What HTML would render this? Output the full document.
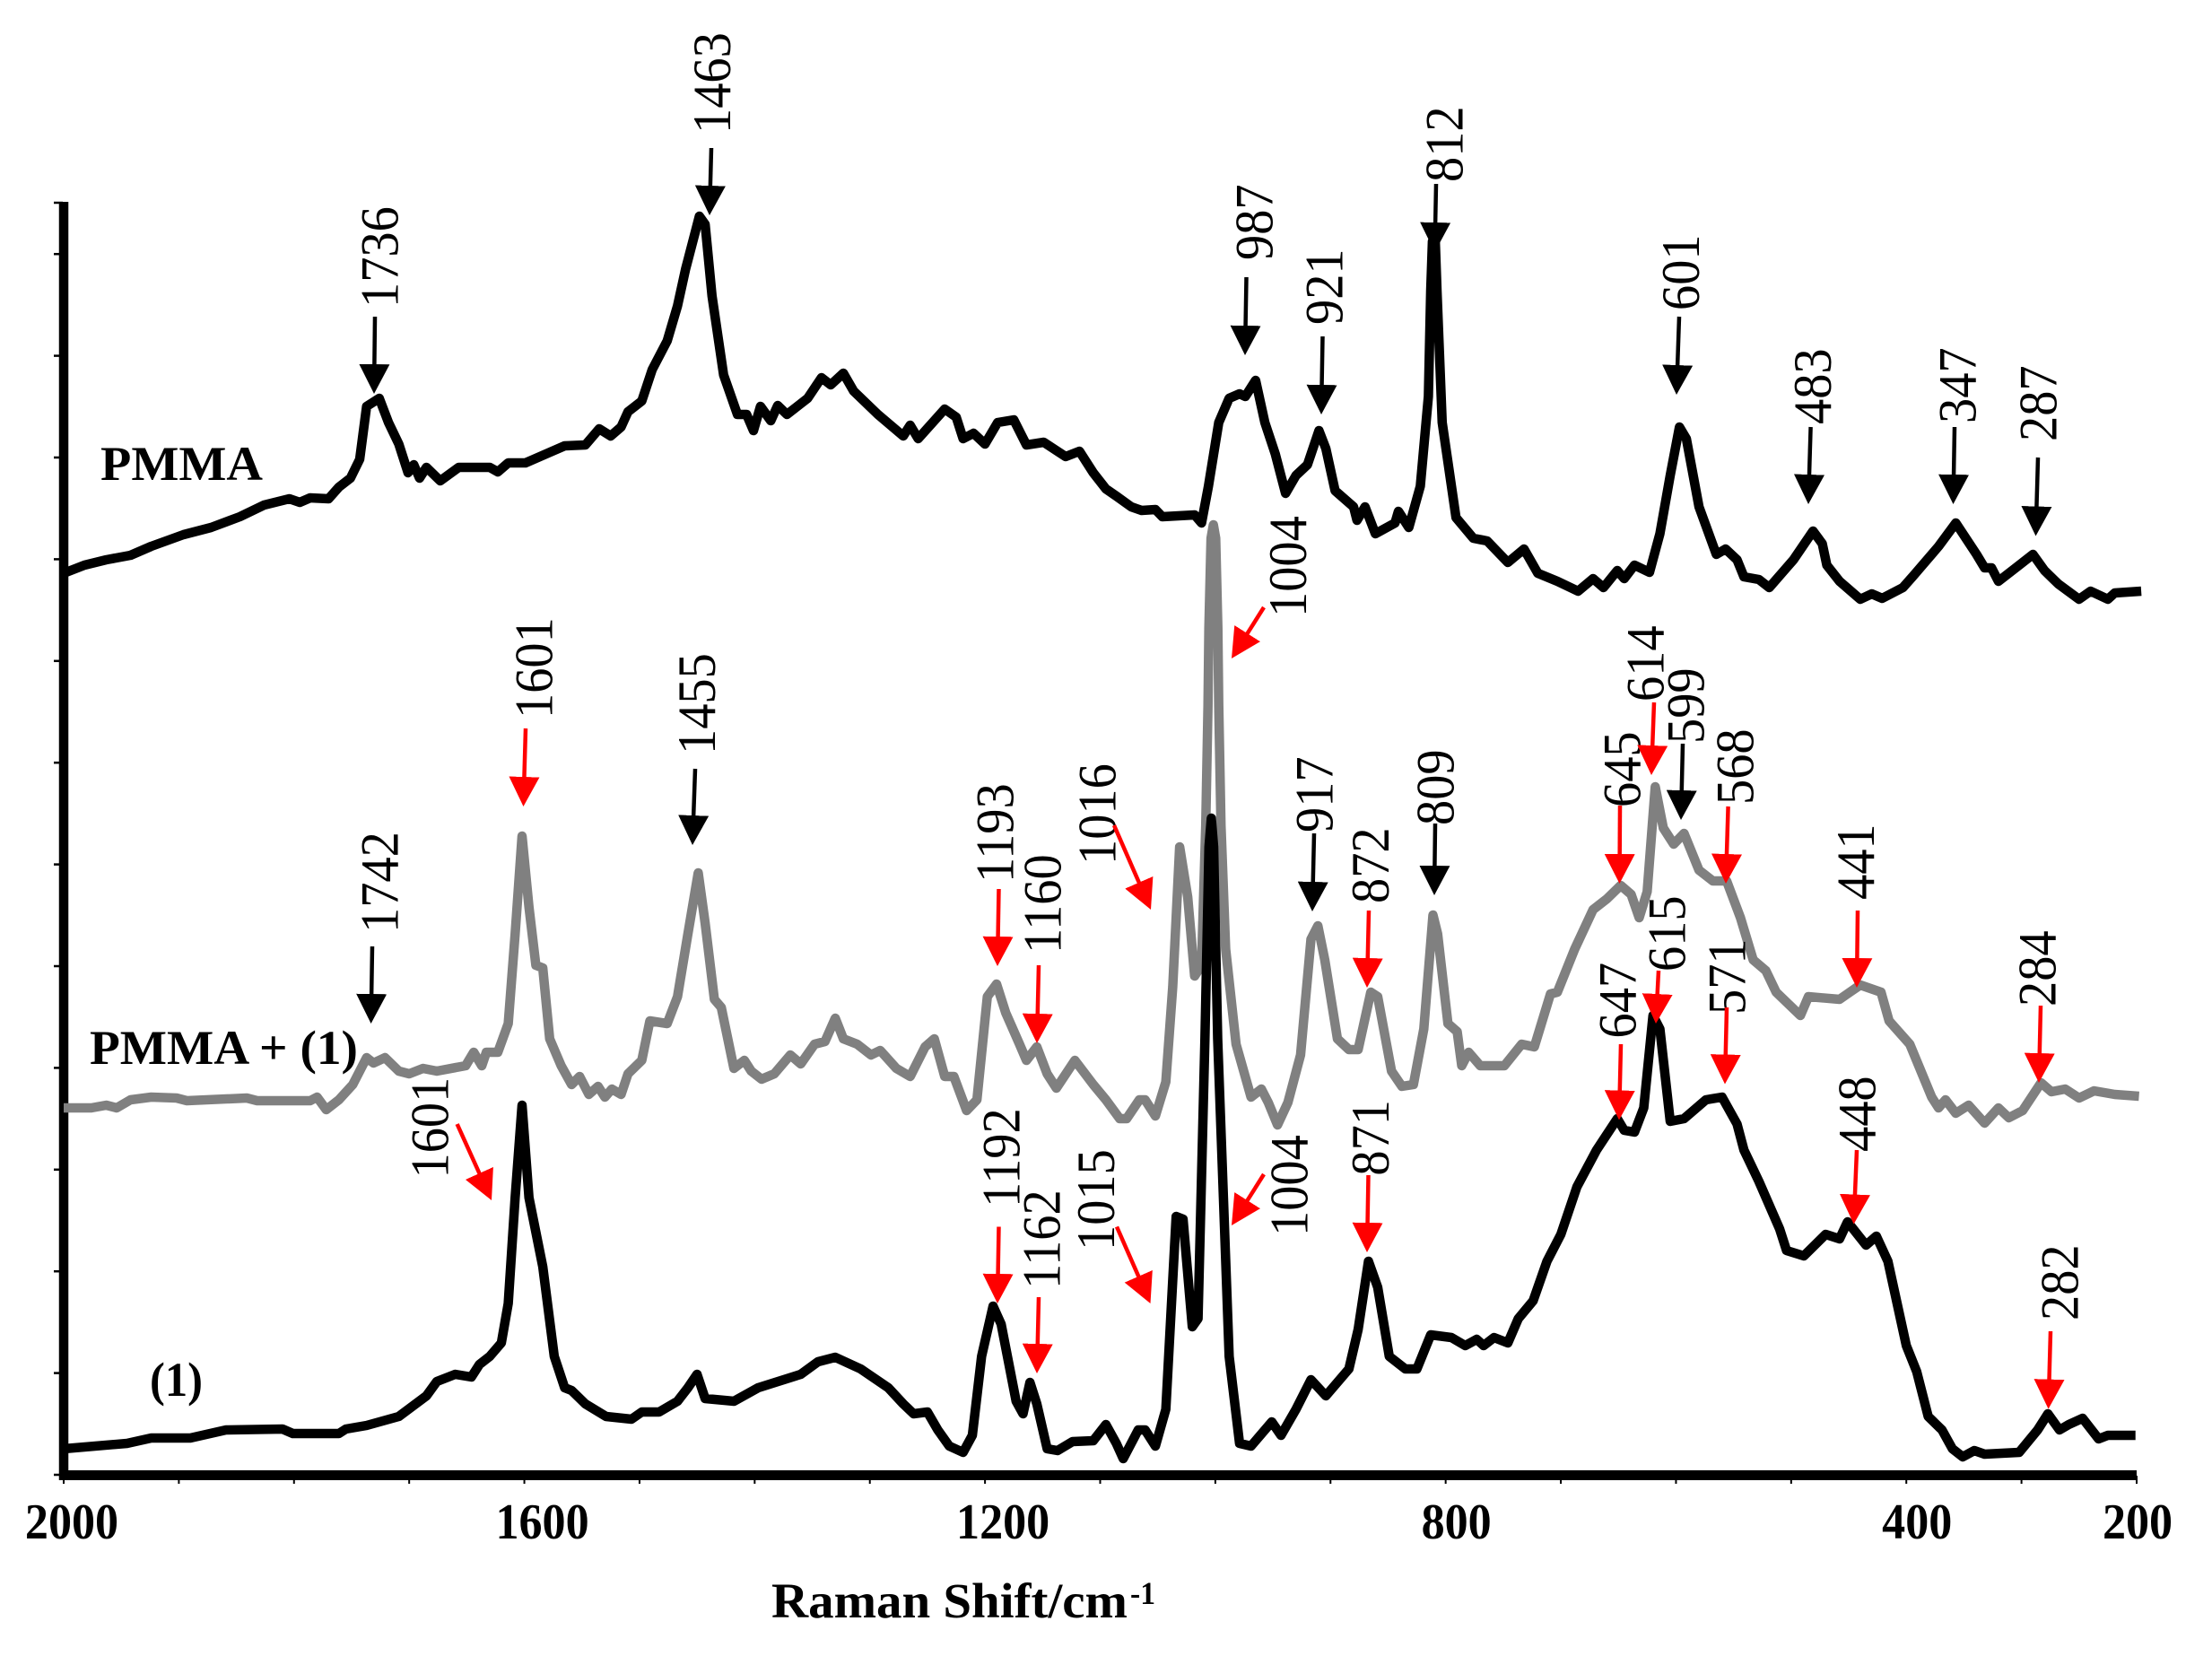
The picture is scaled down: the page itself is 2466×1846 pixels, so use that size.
<!DOCTYPE html>
<html lang="en">
<head>
<meta charset="utf-8">
<title>Raman spectra of PMMA, PMMA + (1) and (1)</title>
<style>
html,body{margin:0;padding:0;background:#fff;}
svg{display:block;font-family:"Liberation Serif",serif;}
.pk{font-size:60px;fill:#000;}
.ar{stroke-width:4.5;fill:none;}
.k{stroke:#000;}
.r{stroke:#f00;}
.tick-label{font-size:56px;font-weight:bold;text-anchor:middle;}
.series-label{font-size:54px;font-weight:bold;}
</style>
</head>
<body>
<svg id="chart" xmlns="http://www.w3.org/2000/svg" width="2466" height="1846" viewBox="0 0 2466 1846">
<defs>
<marker id="hk" markerUnits="userSpaceOnUse" viewBox="0 0 33 34" markerWidth="33" markerHeight="34" refX="33" refY="17" orient="auto"><path d="M0 0L33 17L0 34z" fill="#000"/></marker>
<marker id="hr" markerUnits="userSpaceOnUse" viewBox="0 0 33 34" markerWidth="33" markerHeight="34" refX="33" refY="17" orient="auto"><path d="M0 0L33 17L0 34z" fill="#f00"/></marker>
</defs>
<rect x="0" y="0" width="2466" height="1846" fill="#fff"/>
<g id="axes"></g>
<g id="series"></g>

<text class="series-label" x="112" y="535" textLength="181" lengthAdjust="spacingAndGlyphs">PMMA</text>
<text class="series-label" x="100" y="1186" textLength="299" lengthAdjust="spacingAndGlyphs">PMMA + (1)</text>
<text class="series-label" x="167" y="1556" textLength="59" lengthAdjust="spacingAndGlyphs">(1)</text>

<text x="860" y="1803" font-size="55" font-weight="bold" textLength="397" lengthAdjust="spacingAndGlyphs">Raman Shift/cm</text>
<text x="1260" y="1788" font-size="36" font-weight="bold" textLength="28" lengthAdjust="spacingAndGlyphs">-1</text>

<g>
<g><text class="pk" transform="translate(443.5,343) rotate(-90) scale(.94,1)">1736</text><line class="ar k" x1="418" y1="353" x2="417" y2="439" pathLength="100" stroke-dasharray="80 100" marker-end="url(#hk)"/></g>
<g><text class="pk" transform="translate(814,149) rotate(-90) scale(.94,1)">1463</text><line class="ar k" x1="793" y1="165" x2="791" y2="240" pathLength="100" stroke-dasharray="80 100" marker-end="url(#hk)"/></g>
<g><text class="pk" transform="translate(1418.5,290) rotate(-90) scale(.94,1)">987</text><line class="ar k" x1="1389.5" y1="309" x2="1388" y2="396" pathLength="100" stroke-dasharray="80 100" marker-end="url(#hk)"/></g>
<g><text class="pk" transform="translate(1496.5,362) rotate(-90) scale(.94,1)">921</text><line class="ar k" x1="1474.5" y1="375" x2="1473" y2="462" pathLength="100" stroke-dasharray="80 100" marker-end="url(#hk)"/></g>
<g><text class="pk" transform="translate(1630.5,203) rotate(-90) scale(.94,1)">812</text><line class="ar k" x1="1601" y1="205" x2="1599.5" y2="281" pathLength="100" stroke-dasharray="80 100" marker-end="url(#hk)"/></g>
<g><text class="pk" transform="translate(1894,346) rotate(-90) scale(.94,1)">601</text><line class="ar k" x1="1872" y1="353" x2="1869" y2="440" pathLength="100" stroke-dasharray="80 100" marker-end="url(#hk)"/></g>
<g><text class="pk" transform="translate(2041,473) rotate(-90) scale(.94,1)">483</text><line class="ar k" x1="2018.6" y1="476" x2="2016" y2="562" pathLength="100" stroke-dasharray="80 100" marker-end="url(#hk)"/></g>
<g><text class="pk" transform="translate(2202.5,472) rotate(-90) scale(.94,1)">347</text><line class="ar k" x1="2179" y1="476" x2="2177.5" y2="562" pathLength="100" stroke-dasharray="80 100" marker-end="url(#hk)"/></g>
<g><text class="pk" transform="translate(2292.5,492) rotate(-90) scale(.94,1)">287</text><line class="ar k" x1="2272" y1="510" x2="2269.5" y2="597.5" pathLength="100" stroke-dasharray="80 100" marker-end="url(#hk)"/></g>
</g>

<g>
<g><text class="pk" transform="translate(443.5,1040) rotate(-90) scale(.94,1)">1742</text><line class="ar k" x1="415" y1="1055" x2="413.6" y2="1141" pathLength="100" stroke-dasharray="80 100" marker-end="url(#hk)"/></g>
<g><text class="pk" transform="translate(615.5,801) rotate(-90) scale(.94,1)">1601</text><line class="ar r" x1="586" y1="812" x2="583.5" y2="899" pathLength="100" stroke-dasharray="80 100" marker-end="url(#hr)"/></g>
<g><text class="pk" transform="translate(797,841) rotate(-90) scale(.94,1)">1455</text><line class="ar k" x1="775" y1="857" x2="772" y2="942" pathLength="100" stroke-dasharray="80 100" marker-end="url(#hk)"/></g>
<g><text class="pk" transform="translate(1129.5,984) rotate(-90) scale(.94,1)">1193</text><line class="ar r" x1="1113.5" y1="991" x2="1112" y2="1077" pathLength="100" stroke-dasharray="80 100" marker-end="url(#hr)"/></g>
<g><text class="pk" transform="translate(1182.5,1063) rotate(-90) scale(.94,1)">1160</text><line class="ar r" x1="1158" y1="1076" x2="1156" y2="1163" pathLength="100" stroke-dasharray="80 100" marker-end="url(#hr)"/></g>
<g><text class="pk" transform="translate(1243.5,964) rotate(-90) scale(.94,1)">1016</text><line class="ar r" x1="1242" y1="920" x2="1283" y2="1014" pathLength="100" stroke-dasharray="80 100" marker-end="url(#hr)"/></g>
<g><text class="pk" transform="translate(1456,688) rotate(-90) scale(.94,1)">1004</text><line class="ar r" x1="1409" y1="677" x2="1373" y2="734" pathLength="100" stroke-dasharray="80 100" marker-end="url(#hr)"/></g>
<g><text class="pk" transform="translate(1485.5,928) rotate(-90) scale(.94,1)">917</text><line class="ar k" x1="1465" y1="929" x2="1463" y2="1016" pathLength="100" stroke-dasharray="80 100" marker-end="url(#hk)"/></g>
<g><text class="pk" transform="translate(1548,1007) rotate(-90) scale(.94,1)">872</text><line class="ar r" x1="1526" y1="1015" x2="1524" y2="1101" pathLength="100" stroke-dasharray="80 100" marker-end="url(#hr)"/></g>
<g><text class="pk" transform="translate(1620.5,920) rotate(-90) scale(.94,1)">809</text><line class="ar k" x1="1600" y1="918" x2="1599" y2="998" pathLength="100" stroke-dasharray="80 100" marker-end="url(#hk)"/></g>
<g><text class="pk" transform="translate(1828.5,900) rotate(-90) scale(.94,1)">645</text><line class="ar r" x1="1806" y1="898" x2="1805.5" y2="985" pathLength="100" stroke-dasharray="80 100" marker-end="url(#hr)"/></g>
<g><text class="pk" transform="translate(1854.5,782) rotate(-90) scale(.94,1)">614</text><line class="ar r" x1="1844" y1="783" x2="1841" y2="864" pathLength="100" stroke-dasharray="80 100" marker-end="url(#hr)"/></g>
<g><text class="pk" transform="translate(1899.5,829) rotate(-90) scale(.94,1)">599</text><line class="ar k" x1="1876" y1="829" x2="1874" y2="914" pathLength="100" stroke-dasharray="80 100" marker-end="url(#hk)"/></g>
<g><text class="pk" transform="translate(1954.5,897) rotate(-90) scale(.94,1)">568</text><line class="ar r" x1="1926.6" y1="899" x2="1924" y2="985" pathLength="100" stroke-dasharray="80 100" marker-end="url(#hr)"/></g>
<g><text class="pk" transform="translate(2089,1003) rotate(-90) scale(.94,1)">441</text><line class="ar r" x1="2071" y1="1015" x2="2070" y2="1101" pathLength="100" stroke-dasharray="80 100" marker-end="url(#hr)"/></g>
<g><text class="pk" transform="translate(2291.5,1122) rotate(-90) scale(.94,1)">284</text><line class="ar r" x1="2275" y1="1121" x2="2273" y2="1207" pathLength="100" stroke-dasharray="80 100" marker-end="url(#hr)"/></g>
</g>

<g>
<g><text class="pk" transform="translate(499.5,1313.5) rotate(-90) scale(.94,1)">1601</text><line class="ar r" x1="509.6" y1="1253" x2="548" y2="1338" pathLength="100" stroke-dasharray="80 100" marker-end="url(#hr)"/></g>
<g><text class="pk" transform="translate(1136.5,1346) rotate(-90) scale(.94,1)">1192</text><line class="ar r" x1="1113.5" y1="1367.5" x2="1112" y2="1453" pathLength="100" stroke-dasharray="80 100" marker-end="url(#hr)"/></g>
<g><text class="pk" transform="translate(1181.5,1437) rotate(-90) scale(.94,1)">1162</text><line class="ar r" x1="1158" y1="1446" x2="1156" y2="1531" pathLength="100" stroke-dasharray="80 100" marker-end="url(#hr)"/></g>
<g><text class="pk" transform="translate(1242,1394) rotate(-90) scale(.94,1)">1015</text><line class="ar r" x1="1245" y1="1367.5" x2="1282.5" y2="1453" pathLength="100" stroke-dasharray="80 100" marker-end="url(#hr)"/></g>
<g><text class="pk" transform="translate(1457.5,1378) rotate(-90) scale(.94,1)">1004</text><line class="ar r" x1="1409" y1="1309" x2="1373" y2="1366" pathLength="100" stroke-dasharray="80 100" marker-end="url(#hr)"/></g>
<g><text class="pk" transform="translate(1548,1310.6) rotate(-90) scale(.94,1)">871</text><line class="ar r" x1="1525.5" y1="1310" x2="1524" y2="1396" pathLength="100" stroke-dasharray="80 100" marker-end="url(#hr)"/></g>
<g><text class="pk" transform="translate(1823.5,1157.5) rotate(-90) scale(.94,1)">647</text><line class="ar r" x1="1807" y1="1164" x2="1805" y2="1248.5" pathLength="100" stroke-dasharray="80 100" marker-end="url(#hr)"/></g>
<g><text class="pk" transform="translate(1878.5,1083) rotate(-90) scale(.94,1)">615</text><line class="ar r" x1="1849" y1="1082" x2="1846" y2="1141" pathLength="100" stroke-dasharray="80 100" marker-end="url(#hr)"/></g>
<g><text class="pk" transform="translate(1945.5,1131) rotate(-90) scale(.94,1)">571</text><line class="ar r" x1="1925" y1="1123" x2="1923" y2="1208.5" pathLength="100" stroke-dasharray="80 100" marker-end="url(#hr)"/></g>
<g><text class="pk" transform="translate(2090.5,1284) rotate(-90) scale(.94,1)">448</text><line class="ar r" x1="2070" y1="1282" x2="2066.6" y2="1364.5" pathLength="100" stroke-dasharray="80 100" marker-end="url(#hr)"/></g>
<g><text class="pk" transform="translate(2316.5,1472) rotate(-90) scale(.94,1)">282</text><line class="ar r" x1="2286" y1="1484" x2="2283.6" y2="1570.6" pathLength="100" stroke-dasharray="80 100" marker-end="url(#hr)"/></g>
</g>
</svg>

<script>
const xMajorLabels = [2000, 1600, 1200, 800, 400, 200];
const xMinorTicks = [2000, 1900, 1800, 1700, 1600, 1500, 1400, 1300, 1200, 1100, 1000, 900, 800, 700, 600, 500, 400, 300, 200];
const yTicks = [0, 113.4, 226.8, 340.2, 453.6, 567, 680.4, 793.8, 907.2, 1020.6, 1134, 1247.4, 1360.8, 1418];

const pmmaShift = [2000,1982,1963,1942,1924,1896,1872,1847,1826,1804,1795,1786,1770,1761,1751,1743,1737,1726,1718,1709,1701,1696,1691,1685,1673,1657,1630,1623,1614,1599,1565,1547,1535,1525,1516,1510,1498,1489,1476,1467,1460,1448,1443,1437,1427,1415,1407,1401,1395,1386,1380,1372,1354,1342,1334,1323,1314,1293,1271,1265,1258,1235,1225,1219,1210,1200,1189,1175,1164,1149,1130,1118,1106,1095,1086,1073,1064,1052,1046,1018,1012,1006,997,988,979,974,965,957,948,939,930,920,910,904,896,880,877,870,861,844,841,832,822,815,813,811.5,809,807.5,803,791,776,764,746,732,720,703,685,672,663,651,645,636,623,614,605,597,591,580,565,557,547,541,528,519,498,481,473,469,458,440,430,421,403,394,372,357,339,332,326,320,305,290,280,268,250,240,225,219,196];
const pmmaIntensity = [1005,1014,1020,1025,1035,1048,1056,1068,1081,1088,1084,1089,1088,1101,1111,1132,1191,1200,1173,1149,1117,1126,1111,1123,1108,1123,1123,1118,1128,1128,1147,1148,1166,1158,1168,1185,1197,1232,1264,1303,1344,1403,1394,1314,1226,1182,1182,1164,1191,1175,1192,1182,1200,1223,1215,1228,1208,1182,1158,1170,1155,1188,1179,1155,1161,1149,1173,1176,1148,1151,1135,1141,1117,1099,1091,1079,1075,1076,1068,1070,1061,1102,1173,1200,1205,1202,1220,1173,1138,1094,1114,1126,1164,1144,1097,1079,1064,1079,1049,1061,1074,1056,1102,1202,1320,1375,1375,1320,1173,1067,1044,1041,1017,1032,1005,996,985,999,989,1008,999,1014,1006,1049,1114,1168,1155,1079,1026,1032,1020,1001,998,989,1020,1052,1038,1014,996,976,982,977,989,1002,1035,1061,1026,1011,1011,996,1011,1026,1008,993,976,985,976,983,985];

const blendShift = [2000,1976,1963,1954,1942,1924,1902,1893,1841,1832,1786,1780,1772,1761,1749,1737,1731,1721,1709,1700,1688,1676,1651,1644,1637,1633,1623,1614,1608,1602,1596,1590,1584,1578,1568,1559,1552,1544,1536,1530,1524,1516,1510,1498,1491,1476,1467,1458,1449,1443,1435,1429,1418,1409,1403,1394,1383,1369,1360,1348,1339,1330,1323,1311,1299,1291,1277,1265,1252,1244,1235,1227,1216,1207,1198,1190,1182,1170,1164,1155,1146,1138,1122,1106,1095,1083,1077,1066,1061,1052,1043,1037,1031,1024,1018,1012,1008.3,1006.4,1005.6,1003.7,1001.7,999.7,997.8,997,995.1,991,982,969,960,954,946,937,926,917,911,905,894,884,876,865,859,847,838,828,819,811,807,798,790,786,780,770,749,734,723,709,703,688,672,660,648,639,632,625,618,611,602,593,580,568,556,544,533,522,513,492,485,458,449,440,422,415,397,378,372,366,357,346,332,320,311,299,283,274,262,250,237,219,198];
const blendIntensity = [409,409,412,409,418,421,420,417,420,417,417,421,407,418,435,465,459,465,450,447,453,450,456,471,456,471,471,503,603,712,633,568,565,486,456,435,444,424,433,421,430,424,447,462,506,503,533,603,671,615,530,521,453,462,450,441,447,468,458,480,483,509,486,480,468,473,453,444,477,486,444,444,406,418,533,547,515,480,462,477,447,431,462,435,418,397,397,418,418,400,438,544,700,644,556,568,724,857,944,1044,1059,1044,944,857,724,586,480,421,430,415,390,415,468,597,612,574,486,474,474,538,533,450,433,435,497,624,603,503,494,456,471,456,456,480,477,536,538,586,630,642,657,647,621,650,767,721,703,715,674,662,662,621,574,562,538,512,533,530,538,546,538,506,480,421,409,418,403,412,392,409,398,406,437,427,430,420,428,424,422];

const complexShift = [2000,1945,1924,1890,1859,1810,1801,1761,1755,1737,1709,1685,1676,1660,1646,1639,1630,1620,1614,1608,1602,1596,1584,1574,1565,1559,1547,1529,1507,1498,1483,1467,1458,1450,1443,1418,1397,1360,1345,1330,1308,1284,1271,1262,1250,1241,1231,1219,1211,1203,1193,1186,1173,1167,1161,1155,1146,1137,1124,1106,1095,1086,1080,1067,1061,1052,1043,1034,1028,1020,1015,1009,1005.5,1003.5,1001.5,998,988,979,969,951,943,930,917,904,884,876,867,859,849,835,825,813,795,783,773,767,758,746,737,724,712,700,686,669,651,645,636,628,620,614,605,593,574,560,547,541,528,510,504,489,470,458,451,435,426,416,400,391,381,369,360,351,341,332,302,286,277,267,259,247,233,225,201];
const complexIntensity = [29,35,41,41,50,51,46,46,51,55,65,88,104,112,109,123,132,147,191,309,412,309,232,132,97,94,79,65,62,70,70,82,97,112,85,82,97,112,126,131,118,97,79,68,70,50,32,25,44,132,188,168,82,68,103,79,29,27,37,38,56,35,18,50,50,32,73,288,285,165,174,486,700,732,700,486,132,35,32,59,44,73,106,88,118,162,238,209,132,118,118,156,153,144,151,144,153,147,174,194,238,268,321,362,397,384,382,409,512,497,394,397,418,421,391,362,327,274,250,244,268,263,282,256,266,238,144,115,65,50,29,20,27,23,25,50,68,50,56,63,40,44,44];

const SVG_NS = 'http://www.w3.org/2000/svg';
const plot = { left: 71, right: 2382, bottom: 1644, top: 226 };
const shiftMax = 2000, shiftMin = 200, intensityMax = 1418;
function xScale(v) { return plot.left + (shiftMax - v) * (plot.right - plot.left) / (shiftMax - shiftMin); }
function yScale(v) { return plot.bottom - v * (plot.bottom - plot.top) / intensityMax; }
function make(tag, parent) { const el = document.createElementNS(SVG_NS, tag); parent.appendChild(el); return el; }

const axes = document.getElementById('axes');
xMinorTicks.forEach(function (v) {
  const t = make('line', axes);
  
  
  t.setAttribute('x1', xScale(v)); t.setAttribute('x2', xScale(v));
  t.setAttribute('y1', 1645); t.setAttribute('y2', 1654);
  t.setAttribute('stroke', '#000'); t.setAttribute('stroke-width', 2);
});
yTicks.forEach(function (v) {
  const t = make('line', axes);
  
  
  t.setAttribute('x1', 60); t.setAttribute('x2', 70);
  t.setAttribute('y1', yScale(v)); t.setAttribute('y2', yScale(v));
  t.setAttribute('stroke', '#000'); t.setAttribute('stroke-width', 2.5);
});
const yAxisLine = make('line', axes);


yAxisLine.setAttribute('x1', 71); yAxisLine.setAttribute('x2', 71);
yAxisLine.setAttribute('y1', yScale(intensityMax) - 1); yAxisLine.setAttribute('y2', 1650);
yAxisLine.setAttribute('stroke', '#000'); yAxisLine.setAttribute('stroke-width', 10.5);
const xAxisLine = make('line', axes);


xAxisLine.setAttribute('x1', 66); xAxisLine.setAttribute('x2', xScale(shiftMin));
xAxisLine.setAttribute('y1', 1644.5); xAxisLine.setAttribute('y2', 1644.5);
xAxisLine.setAttribute('stroke', '#000'); xAxisLine.setAttribute('stroke-width', 11);

function labelNudge(v) { return v === 2000 ? 9 : v === 200 ? 1 : v >= 1200 ? 20 : 12; }
xMajorLabels.forEach(function (v) {
  const t = make('text', axes);
  
  
  t.setAttribute('class', 'tick-label');
  t.setAttribute('transform', 'translate(' + (xScale(v) + labelNudge(v)) + ',1715) scale(.93,1)');
  t.textContent = String(v);
});

const seriesGroup = document.getElementById('series');
function drawSeries(shift, intensity, color, width) {
  const p = make('path', seriesGroup);
  p.setAttribute('d', shift.map(function (s, i) {
    return (i ? 'L' : 'M') + xScale(s).toFixed(1) + ' ' + yScale(intensity[i]).toFixed(1);
  }).join(''));
  p.setAttribute('fill', 'none');
  p.setAttribute('stroke', color);
  p.setAttribute('stroke-width', width);
  p.setAttribute('stroke-linejoin', 'round');
  return p;
}
const pmmaLine = drawSeries(pmmaShift, pmmaIntensity, '#000', 10.5);


const blendLine = drawSeries(blendShift, blendIntensity, '#808080', 10.5);


const complexLine = drawSeries(complexShift, complexIntensity, '#000', 10.5);


</script>
</body>
</html>
